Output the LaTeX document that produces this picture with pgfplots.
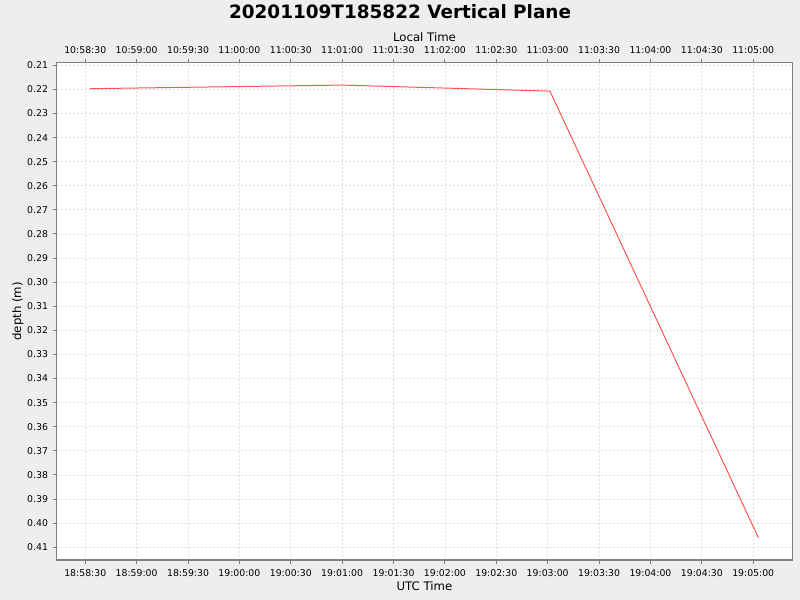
\documentclass[border=0pt]{standalone}
\usepackage{pgfplots}
\pgfplotsset{compat=1.18}
\usepackage{fontspec}
\setmainfont{DejaVu Sans}
\definecolor{bg}{HTML}{EEEEEE}
\definecolor{gridc}{HTML}{DCDCDC}
\definecolor{framec}{HTML}{808080}
\definecolor{linec}{RGB}{255,85,85}
\begin{document}
\begin{tikzpicture}
\path[fill=bg,use as bounding box] (0pt,0pt) rectangle (600pt,450pt);
\node[font=\fontsize{13.8pt}{16pt}\selectfont\bfseries] at (300pt,441pt) {20201109T185822 Vertical Plane};
\begin{axis}[
  at={(42.5pt,30pt)}, anchor=south west,
  scale only axis, width=551.7pt, height=373pt,
  axis background/.style={fill=white},
  xmin=-16.7, xmax=412.8,
  ymin=0.2089, ymax=0.4153, y dir=reverse,
  xtick={0,30,...,390},
  xticklabels={18:58:30,18:59:00,18:59:30,19:00:00,19:00:30,19:01:00,19:01:30,19:02:00,19:02:30,19:03:00,19:03:30,19:04:00,19:04:30,19:05:00},
  ytick={0.21,0.22,...,0.415},
  /pgf/number format/assume math mode=true,
  yticklabel style={/pgf/number format/.cd,fixed,fixed zerofill,precision=2},
  xtick pos=bottom, ytick pos=left,
  tick align=outside, major tick length=3pt,
  tick style={framec, line width=0.75pt},
  axis line style={framec, line width=0.9pt},
  ticklabel style={font=\fontsize{7pt}{8pt}\selectfont, text=black},
  grid=major,
  major grid style={gridc, dash pattern=on 1.5pt off 1.5pt, line width=0.6pt},
  xlabel={UTC Time},
  ylabel={depth (m)},
  label style={font=\fontsize{8.8pt}{10pt}\selectfont},
  xlabel style={at={(axis description cs:0.5,0)}, anchor=center, yshift=-19.5pt},
  ylabel style={at={(axis description cs:0,0.5)}, anchor=center, yshift=29pt},
  xticklabel style={yshift=-1pt},
]
\addplot[linec, line width=0.75pt] coordinates {
 (2.74,0.2197) (149.7,0.2182) (271.3,0.2207) (393.0,0.4060)
};
\end{axis}
\begin{axis}[
  at={(42.5pt,30pt)}, anchor=south west,
  scale only axis, width=551.7pt, height=373pt,
  xmin=-16.7, xmax=412.8,
  ymin=0.2089, ymax=0.4153, y dir=reverse,
  axis x line*=top, axis y line=none,
  xtick={0,30,...,390},
  xticklabels={10:58:30,10:59:00,10:59:30,11:00:00,11:00:30,11:01:00,11:01:30,11:02:00,11:02:30,11:03:00,11:03:30,11:04:00,11:04:30,11:05:00},
  tick align=outside, major tick length=3pt,
  tick style={framec, line width=0.75pt},
  axis line style={framec, line width=0.9pt, -},
  ticklabel style={font=\fontsize{7pt}{8pt}\selectfont, text=black},
  xlabel={Local Time},
  label style={font=\fontsize{8.8pt}{10pt}\selectfont},
  xlabel style={at={(axis description cs:0.5,1)}, anchor=center, yshift=19.3pt},
]
\end{axis}
\end{tikzpicture}
\end{document}
